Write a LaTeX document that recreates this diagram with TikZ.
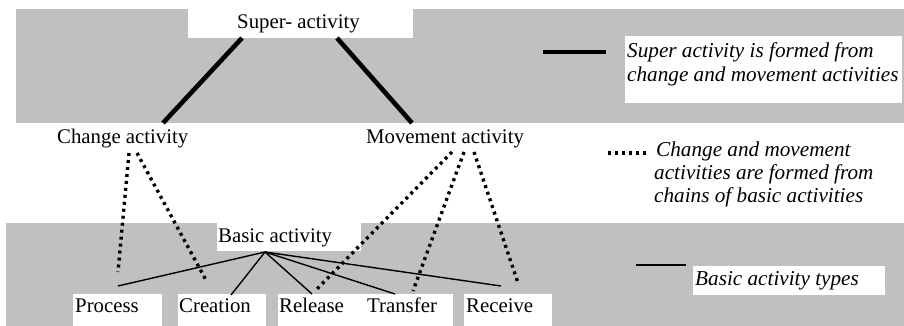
\documentclass[tikz,border=0pt]{standalone}
\usepackage{fontspec}
\setmainfont{Liberation Serif}
\definecolor{bandgray}{HTML}{C0C0C0}
\begin{document}
\begin{tikzpicture}[x=1pt,y=-1pt,
  lbl/.style={inner sep=0pt, anchor=base west, font=\fontsize{20.8}{24}\selectfont},
  note/.style={inner sep=0pt, anchor=base west, font=\fontsize{21.2}{24}\selectfont\itshape},
  thickrule/.style={line width=4.6pt},
  dotrule/.style={line width=3.4pt, dash pattern=on 3pt off 4pt},
  thinrule/.style={line width=1.4pt},
  patch/.style={fill=white, draw=none}]
\useasboundingbox (0,0) rectangle (904,326);
\fill[white] (0,0) rectangle (904,326);

% grey bands
\fill[bandgray] (16,9) rectangle (904,123);
\fill[bandgray] (6,223) rectangle (904,326);

% white backgrounds behind labels
\fill[patch] (188,0) rectangle (413,38);
\fill[patch] (625,36) rectangle (902,103);
\fill[patch] (217,223) rectangle (361,251);
\fill[patch] (73,294) rectangle (162,326);
\fill[patch] (178,294) rectangle (266,326);
\fill[patch] (278,294) rectangle (453,326);
\fill[patch] (464,294) rectangle (552,326);
\fill[patch] (693,266) rectangle (885,295);

% activity labels
\node[lbl] (super) at (237,29) {Super- activity};
\node[lbl] (change) at (57,143) {Change activity};
\node[lbl] (move) at (366,143) {Movement activity};
\node[lbl] (basic) at (218,242) {Basic activity};
\node[lbl] (process) at (75,312) {Process};
\node[lbl] (creation) at (179,312) {Creation};
\node[lbl] (release) at (279,312) {Release};
\node[lbl] (transfer) at (367,312) {Transfer};
\node[lbl] (receive) at (466,312) {Receive};

% connector end points
\coordinate (supL) at (242,38);
\coordinate (supR) at (337,38);
\coordinate (chgT) at (163,123);
\coordinate (movT) at (412,123);
\coordinate (chgA) at (129,153);
\coordinate (chgB) at (137,153);
\coordinate (movA) at (452,152);
\coordinate (movB) at (464,152);
\coordinate (movC) at (474,152);
\coordinate (hub) at (265,252);
\coordinate (procT) at (118,286);
\coordinate (creaT) at (231,295);
\coordinate (relT) at (312,294);
\coordinate (tranT) at (395,294);
\coordinate (recT) at (501,286);
\coordinate (procD) at (118,272);
\coordinate (creaD) at (207,282);
\coordinate (relD) at (315,291);
\coordinate (tranD) at (413,291);
\coordinate (recD) at (518,283);

% super activity built from change and movement
\draw[thickrule] (supL) -- (chgT);
\draw[thickrule] (supR) -- (movT);

% chains of basic activities
\draw[dotrule] (chgA) -- (procD);
\draw[dotrule] (chgB) -- (creaD);
\draw[dotrule] (movA) -- (relD);
\draw[dotrule] (movB) -- (tranD);
\draw[dotrule] (movC) -- (recD);

% basic activity types
\draw[thinrule] (hub) -- (procT);
\draw[thinrule] (hub) -- (creaT);
\draw[thinrule] (hub) -- (relT);
\draw[thinrule] (hub) -- (tranT);
\draw[thinrule] (hub) -- (recT);

% legend
\coordinate (k1a) at (543,52);
\coordinate (k1b) at (606,52);
\coordinate (k2a) at (608,153);
\coordinate (k2b) at (648,153);
\coordinate (k3a) at (636,265);
\coordinate (k3b) at (686,265);
\draw[thickrule] (k1a) -- (k1b);
\draw[dotrule] (k2a) -- (k2b);
\draw[thinrule] (k3a) -- (k3b);

\node[note] (n1a) at (627,58) {Super activity is formed from};
\node[note] (n1b) at (627,82) {change and movement activities};
\node[note] (n2a) at (656,156) {Change and movement};
\node[note] (n2b) at (654,179) {activities are formed from};
\node[note] (n2c) at (654,202) {chains of basic activities};
\node[note] (n3) at (695,285) {Basic activity types};
\end{tikzpicture}
\end{document}
